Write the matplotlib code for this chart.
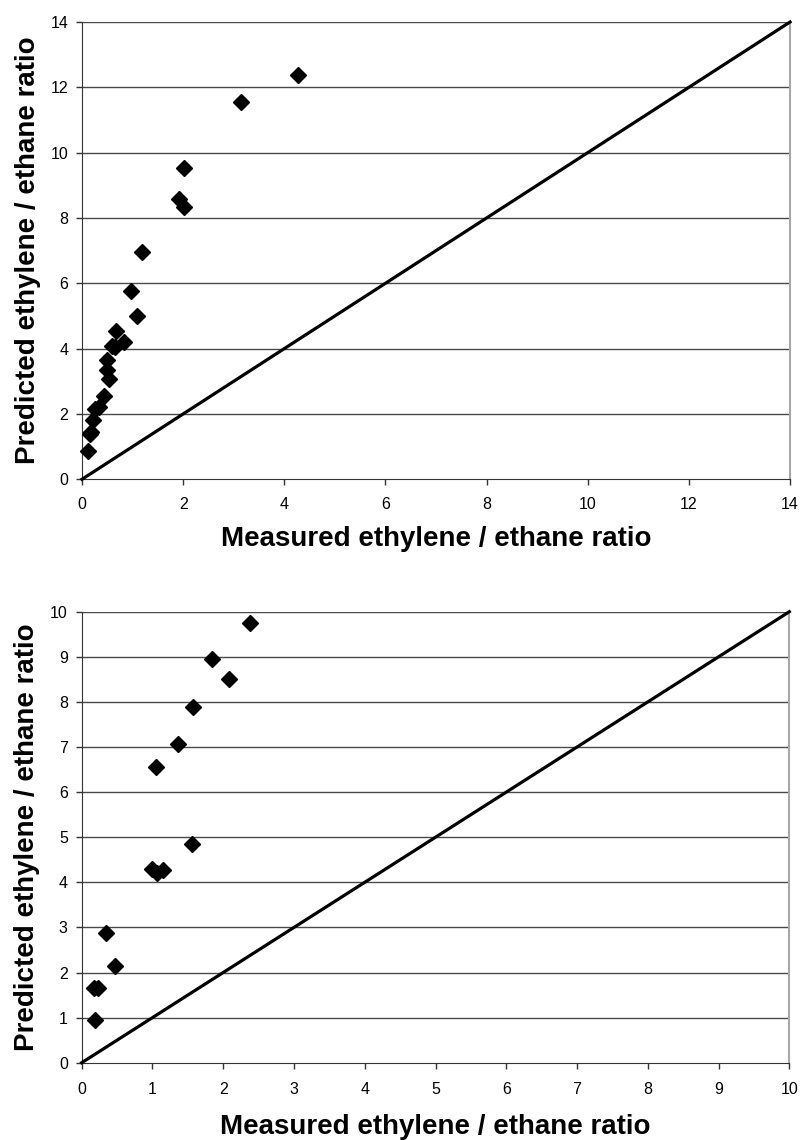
import matplotlib
matplotlib.use('Agg')
import matplotlib.pyplot as plt

plt.rcParams['font.family'] = ['Liberation Sans', 'DejaVu Sans']

# upper chart data
meas1 = [4.28, 3.15, 2.02, 1.92, 2.01, 1.19, 0.97, 1.08, 0.67, 0.60, 0.83, 0.65,
         0.49, 0.49, 0.54, 0.44, 0.34, 0.26, 0.21, 0.18, 0.15, 0.11]
pred1 = [12.39, 11.56, 9.54, 8.58, 8.35, 6.95, 5.76, 5.01, 4.54, 4.08, 4.19, 4.05,
         3.66, 3.34, 3.07, 2.56, 2.22, 2.15, 1.80, 1.44, 1.39, 0.88]

# lower chart data
meas2 = [2.38, 1.84, 2.08, 1.57, 1.36, 1.05, 1.56, 1.00, 1.07, 1.15,
         0.34, 0.47, 0.17, 0.23, 0.19]
pred2 = [9.74, 8.95, 8.50, 7.88, 7.06, 6.55, 4.84, 4.29, 4.21, 4.27,
         2.88, 2.15, 1.66, 1.66, 0.95]

xlab = 'Measured ethylene / ethane ratio'
ylab = 'Predicted ethylene / ethane ratio'

fig = plt.figure(figsize=(8.01, 11.4), dpi=100)
ax1 = fig.add_axes([0.1024, 0.5796, 0.8839, 0.4011])
ax2 = fig.add_axes([0.1020, 0.0678, 0.8834, 0.3956])


def setup(ax, xs, ys, lim, step, xpad, lpad):
    ticks = list(range(0, lim + 1, step))
    ax.set_xlim(0, lim)
    ax.set_ylim(0, lim)
    ax.set_xticks(ticks)
    ax.set_yticks(ticks)
    for t in ticks[1:]:
        ax.axhline(t, color='#4a4a4a', lw=1.0, zorder=1)
    ax.plot([0, lim], [0, lim], color='black', lw=2.3, zorder=3, clip_on=False)
    ax.plot(xs, ys, linestyle='none', marker='D', color='black', markersize=8.5,
            zorder=4, clip_on=False)
    ax.spines['top'].set_visible(False)
    ax.spines['right'].set_color('#a8a8a8')
    ax.spines['right'].set_linewidth(1.5)
    ax.spines['left'].set_color('#333333')
    ax.spines['bottom'].set_color('#333333')
    ax.tick_params(direction='out', length=4, width=1, color='#333333',
                   labelsize=11.5, pad=6)
    ax.tick_params(axis='x', pad=xpad)
    ax.set_xlabel(xlab, fontsize=20, fontweight='bold', labelpad=lpad)
    ax.set_ylabel(ylab, fontsize=20, fontweight='bold', labelpad=7)


setup(ax1, meas1, pred1, 14, 2, 9, 9.5)
setup(ax2, meas2, pred2, 10, 1, 10, 12)

fig.savefig('out.png', dpi=100)
